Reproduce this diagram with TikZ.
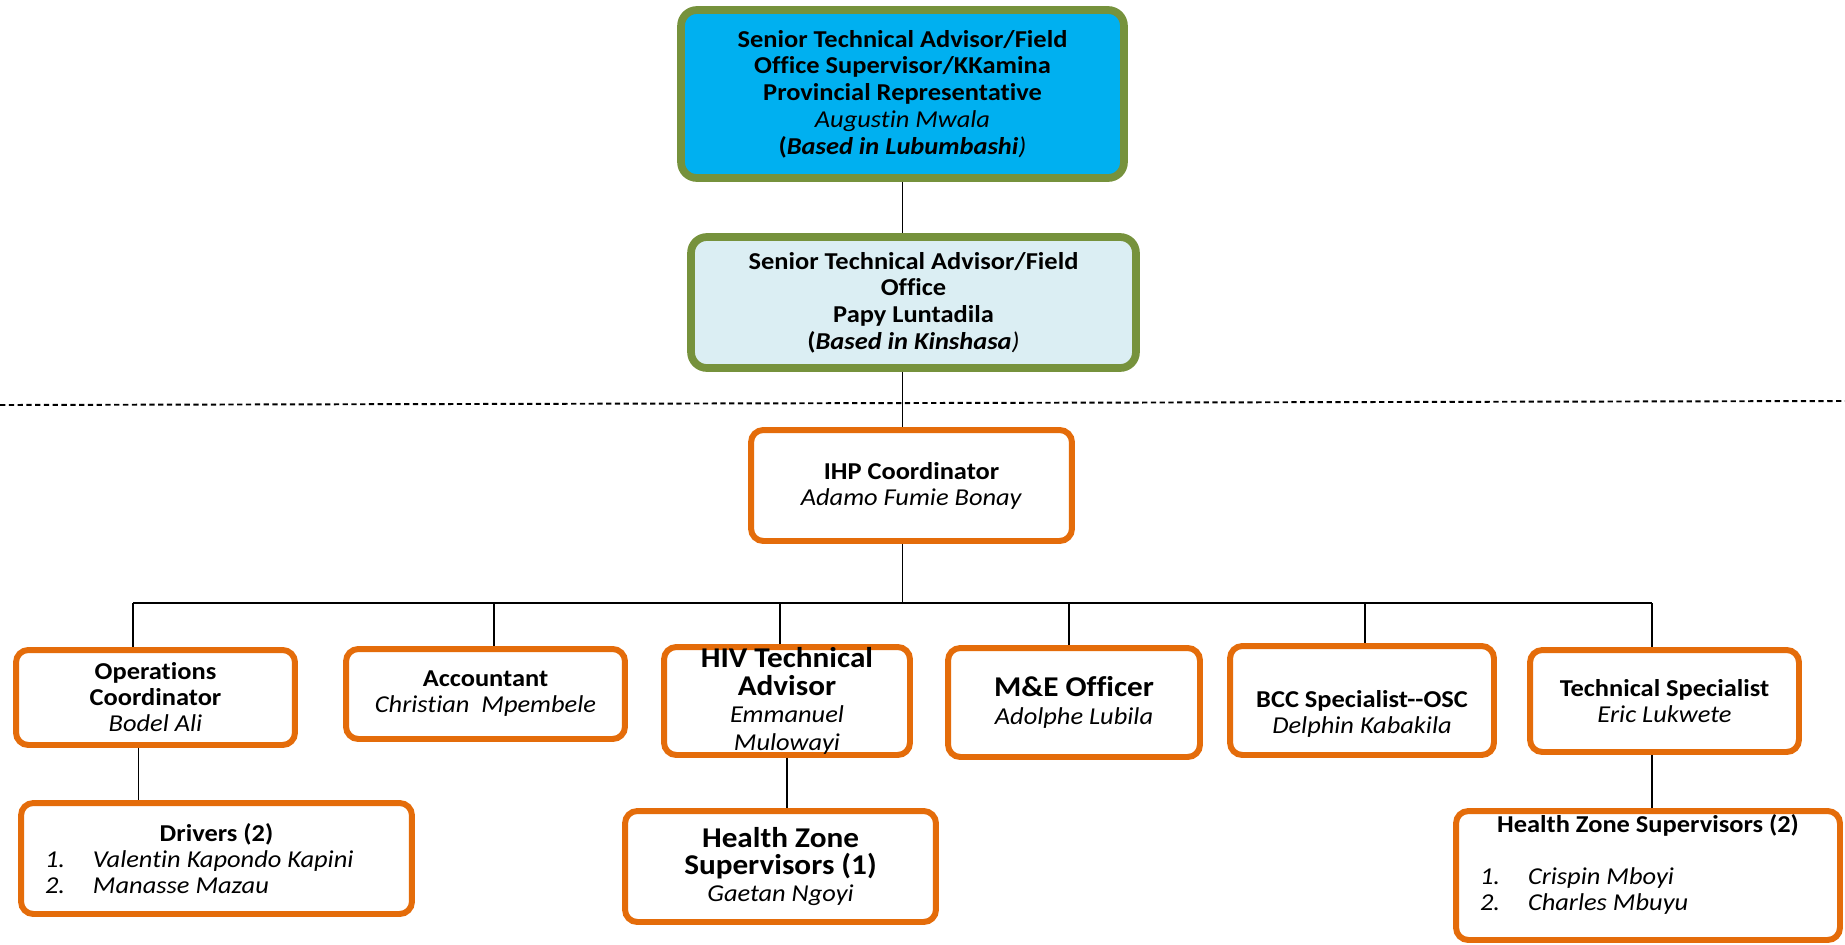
\documentclass[tikz,border=0pt]{standalone}
\usepackage{fontspec}
\setmainfont{Carlito}[FakeStretch=1.09,Ligatures=NoCommon]
\usetikzlibrary{calc}
\definecolor{Olive}{HTML}{76923C}
\definecolor{Sky}{HTML}{00B0F0}
\definecolor{Pale}{HTML}{DBEEF3}
\definecolor{Orange}{HTML}{E46C0A}
\newcommand\who[1]{\textit{\fontsize{13.8}{14.8}\selectfont #1}}
\newcommand\entry[2]{\makebox[0.96cm][l]{\textit{#1}}\textit{#2}}
\newcommand\leadfont{\fontsize{13.8}{15.2}\selectfont\lineskiplimit=-20pt\relax}
\newcommand\postfont{\fontsize{13.8}{14.8}\selectfont\lineskiplimit=-20pt\relax}
\newcommand\bigfont{\fontsize{16.3}{15.6}\selectfont\lineskiplimit=-20pt\relax}

\begin{document}
\begin{tikzpicture}[x=0.02cm,y=-0.02cm,
      lead/.style={rounded corners=9pt,draw=Olive,line width=4.4pt,align=center,inner sep=0pt,
        font=\leadfont},
      post/.style={rounded corners=7pt,draw=Orange,fill=white,line width=3.4pt,align=center,
        inner sep=0pt,font=\postfont},
      bigpost/.style={post,font=\bigfont},
      link/.style={line width=0.9pt},
      divider/.style={line width=1.1pt,dash pattern=on 3pt off 2pt}
    ]
      \useasboundingbox (0,0) rectangle (1845,944);
      \coordinate (sepl) at (0,405);
      \coordinate (sepr) at (1845,401);
      \draw[divider] (sepl) -- (sepr);
      \node[lead,fill=Sky,minimum width=8.86cm,minimum height=3.36cm] (stab) at (902.5,94)
        {\textbf{Senior Technical Advisor/Field}\\\textbf{Office Supervisor/KKamina}\\
         \textbf{Provincial Representative}\\\who{Augustin Mwala}\\
         \textbf{(}\textbf{\textit{Based in Lubumbashi}}\textit{)}};
      \node[lead,fill=Pale,minimum width=8.9cm,minimum height=2.62cm] (stafo) at (913.5,302.5)
        {\textbf{Senior Technical Advisor/Field}\\\textbf{Office}\\\textbf{Papy Luntadila}\\
         \textbf{(}\textbf{\textit{Based in Kinshasa}}\textit{)}};
      \node[post,minimum width=6.42cm,minimum height=2.22cm] (ihp) at (911.5,485.5)
        {\textbf{IHP Coordinator}\\\who{Adamo Fumie Bonay}};
      \node[post,minimum width=5.58cm,minimum height=1.9cm] (ops) at (155.5,697.5)
        {\textbf{Operations}\\\textbf{Coordinator}\\\who{Bodel Ali}};
      \node[post,minimum width=5.58cm,minimum height=1.8cm] (acct) at (485.5,694)
        {\textbf{Accountant}\\\who{Christian\ \ Mpembele}};
      \node[bigpost,minimum width=4.92cm,minimum height=2.16cm] (hiv) at (787,701)
        {\textbf{HIV Technical}\\\textbf{Advisor}\\\who{Emmanuel}\\\who{Mulowayi}};
      \node[bigpost,minimum width=5.04cm,minimum height=2.18cm] (me) at (1074,702.5)
        {\textbf{M\&E Officer}\\\who{Adolphe Lubila}};
      \node[post,minimum width=5.28cm,minimum height=2.18cm] (bcc) at (1362,700.5)
        {\rule{0pt}{25pt}\textbf{BCC Specialist-\kern0pt-OSC}\\\who{Delphin Kabakila}};
      \node[post,minimum width=5.38cm,minimum height=2.04cm] (techspec) at (1664.5,701)
        {\textbf{Technical Specialist}\\\who{Eric Lukwete}};
      \node[post,minimum width=7.82cm,minimum height=2.22cm] (drivers) at (216.5,858.5)
        {\textbf{Drivers (2)}\\\makebox[6.86cm][l]{\entry{1.}{Valentin Kapondo Kapini}}\\
         \makebox[6.86cm][l]{\entry{2.}{Manasse Mazau}}};
      \node[bigpost,minimum width=6.22cm,minimum height=2.22cm] (hzsone) at (780.5,866.5)
        {\textbf{Health Zone}\\\textbf{Supervisors (1)}\\\who{Gaetan Ngoyi}};
      \node[post,minimum width=7.68cm,minimum height=2.58cm] (hzstwo) at (1648,875.5)
        {\textbf{Health Zone Supervisors (2)}\\\mbox{}\\
         \makebox[6.72cm][l]{\entry{1.}{Crispin Mboyi}}\\
         \makebox[6.72cm][l]{\entry{2.}{Charles Mbuyu}}\\\mbox{}};
      \draw[link] (stab.south) -- (stab.south |- stafo.north);
      \draw[link] (stab.south |- stafo.south) -- (stab.south |- ihp.north);
      \foreach \n/\x in {ops/133,acct/494,hiv/780,me/1069,bcc/1365,techspec/1652}{
        \coordinate (drop-\n) at (\x,603);
        \draw[link] (drop-\n) -- (drop-\n |- \n.north);
      }
      \draw[link] (drop-ops) -- (drop-techspec);
      \draw[link] (stab.south |- ihp.south) -- (stab.south |- drop-ops);
      \coordinate (opsdrv) at ($(ops.south)+(-17,0)$);
      \draw[link] (opsdrv) -- (opsdrv |- drivers.north);
      \draw[link] (hiv.south) -- (hiv.south |- hzsone.north);
      \draw[link] (drop-techspec |- techspec.south) -- (drop-techspec |- hzstwo.north);
    \end{tikzpicture}
\end{document}
